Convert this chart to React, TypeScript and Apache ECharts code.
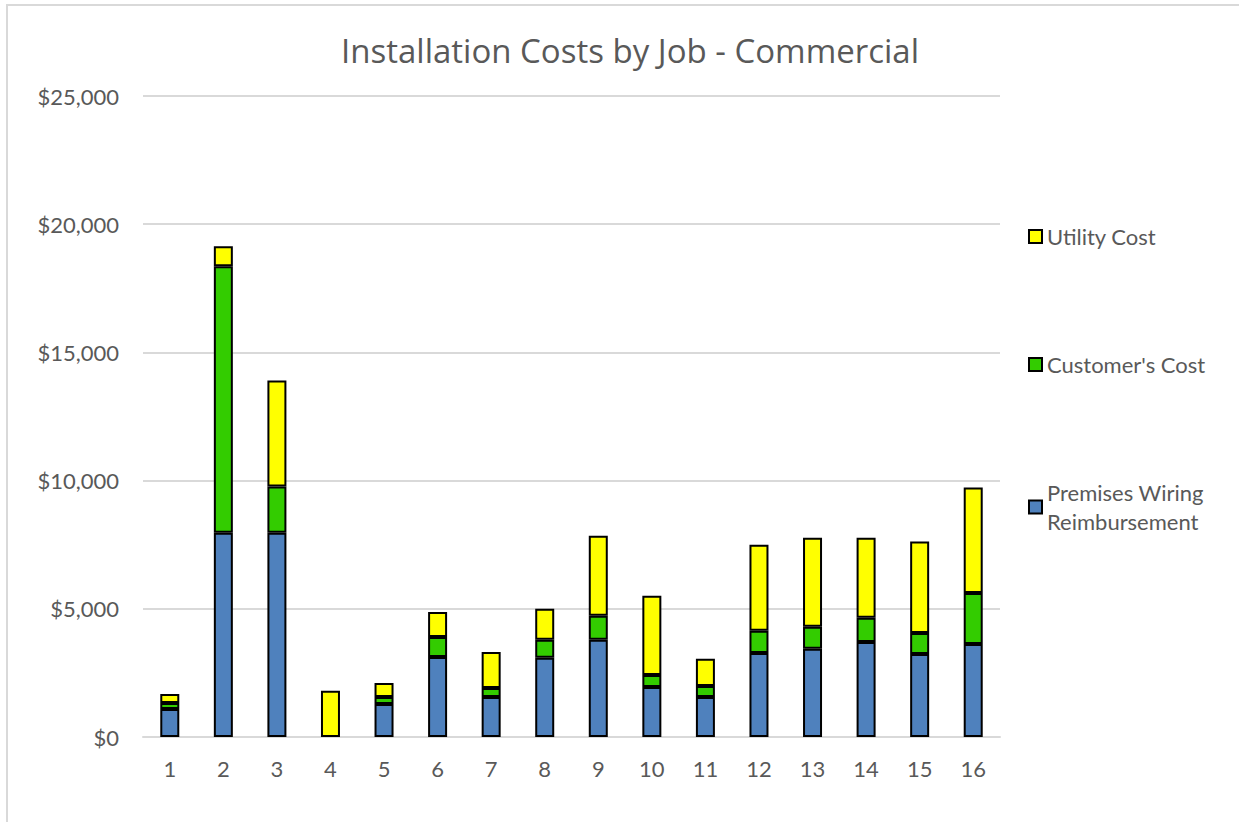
import React, { useEffect, useRef } from "react";
import * as echarts from "echarts";

const categories = ["1", "2", "3", "4", "5", "6", "7", "8", "9", "10", "11", "12", "13", "14", "15", "16"];
const premisesWiring = [1090, 7970, 7970, 0, 1290, 3120, 1560, 3090, 3790, 1950, 1560, 3280, 3440, 3710, 3240, 3630];
const customersCost = [240, 10390, 1800, 0, 270, 780, 350, 700, 940, 470, 430, 860, 860, 940, 820, 1990];
const utilityCost = [350, 780, 4130, 1800, 550, 980, 1410, 1210, 3120, 3090, 1060, 3360, 3470, 3120, 3560, 4110];

const FONT = "Lato, 'Noto Sans', sans-serif";
const TEXT = "#595959";

export default function App() {
  const ref = useRef<HTMLDivElement>(null);
  useEffect(() => {
    if (!ref.current) return;
    const chart = echarts.init(ref.current, undefined, { renderer: "svg" });
    const barStyle = (color: string) => ({ color, borderColor: "#000", borderWidth: 2 });
    const nz = (arr: number[]) => arr.map((v) => (v === 0 ? null : v));
    const legendBase = {
      orient: "vertical" as const,
      left: 1023,
      itemWidth: 13,
      itemHeight: 13,
      itemGap: 8,
      itemTextGap: 5,
      textStyle: { fontFamily: FONT, fontSize: 22, color: TEXT, lineHeight: 29 },
      selectedMode: false,
      icon: "rect",
    };
    chart.setOption({
      animation: false,
      backgroundColor: "#fff",
      textStyle: { fontFamily: FONT },
      title: {
        text: "Installation Costs by Job - Commercial",
        left: 625,
        textAlign: "center",
        top: 29,
        textStyle: { fontFamily: "'Open Sans', Lato, sans-serif", fontSize: 33, fontWeight: "normal", color: TEXT },
      },
      graphic: [
        {
          type: "line",
          shape: { x1: 7, y1: 4, x2: 7, y2: 830 },
          style: { stroke: "#d9d9d9", lineWidth: 2 },
          silent: true,
        },
        {
          type: "line",
          shape: { x1: 6, y1: 5, x2: 1245, y2: 5 },
          style: { stroke: "#d9d9d9", lineWidth: 2 },
          silent: true,
        },
      ],
      grid: { left: 143, right: 239, top: 96, bottom: 85, containLabel: false },
      legend: [
        { ...legendBase, top: 217, data: [{ name: "Utility Cost", itemStyle: barStyle("#ffff00") }] },
        { ...legendBase, top: 345, data: [{ name: "Customer's Cost", itemStyle: barStyle("#33cc00") }] },
        { ...legendBase, top: 473, data: [{ name: "Premises Wiring\nReimbursement", itemStyle: barStyle("#4f81bd") }] },
      ],
      xAxis: {
        type: "category",
        data: categories,
        axisLine: { lineStyle: { color: "#d9d9d9", width: 2 } },
        axisTick: { show: false },
        axisLabel: { fontFamily: FONT, fontSize: 22, color: TEXT, margin: 20 },
      },
      yAxis: {
        type: "value",
        min: 0,
        max: 25000,
        interval: 5000,
        axisLine: { show: false },
        axisTick: { show: false },
        splitLine: { lineStyle: { color: "#d9d9d9", width: 2 } },
        axisLabel: {
          fontFamily: FONT,
          fontSize: 22,
          color: TEXT,
          margin: 24,
          formatter: (v: number) => "$" + v.toLocaleString("en-US"),
        },
      },
      series: [
        {
          name: "Premises Wiring\nReimbursement",
          type: "bar",
          stack: "total",
          data: nz(premisesWiring),
          barWidth: 19,
          itemStyle: barStyle("#4f81bd"),
        },
        {
          name: "Customer's Cost",
          type: "bar",
          stack: "total",
          data: nz(customersCost),
          barWidth: 19,
          itemStyle: barStyle("#33cc00"),
        },
        {
          name: "Utility Cost",
          type: "bar",
          stack: "total",
          data: nz(utilityCost),
          barWidth: 19,
          itemStyle: barStyle("#ffff00"),
        },
      ],
    });
    return () => chart.dispose();
  }, []);
  return (
    <div
      ref={ref}
      style={{ position: "absolute", left: 0, top: 0, width: 1239, height: 822 }}
    />
  );
}
